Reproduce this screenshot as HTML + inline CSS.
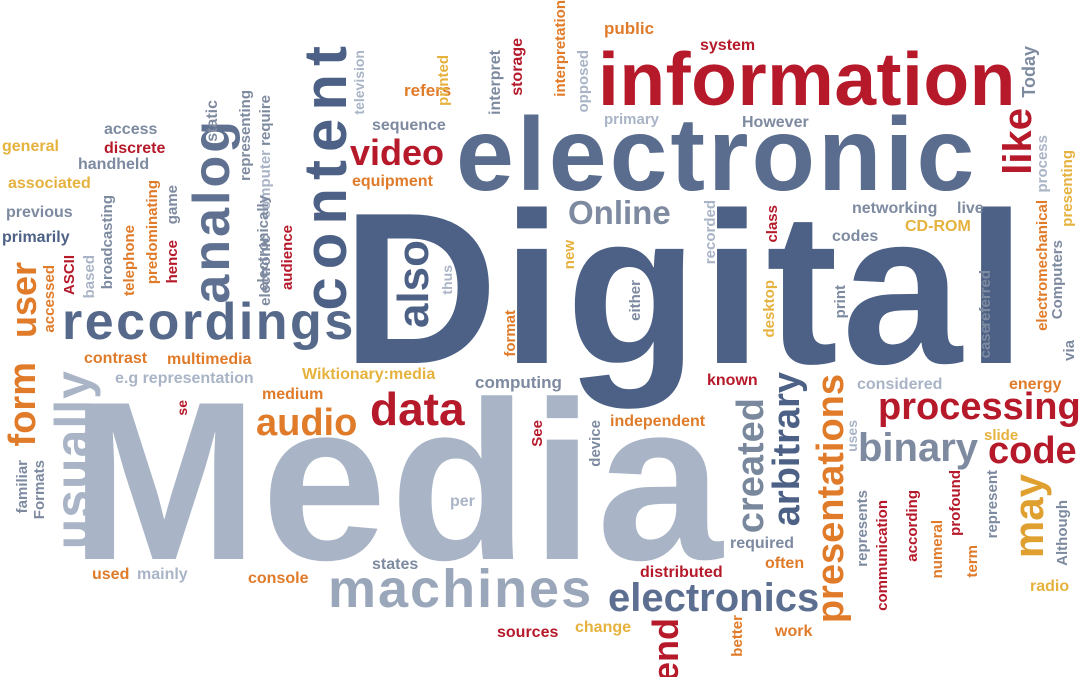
<!DOCTYPE html>
<html><head><meta charset="utf-8">
<style>
html,body{margin:0;padding:0;background:#fff}
#c{position:relative;width:1080px;height:677px;overflow:hidden;background:#fff;font-family:"Liberation Sans",sans-serif;font-weight:bold}
#c span{position:absolute;white-space:nowrap;line-height:1}
.v{writing-mode:vertical-rl;transform:rotate(180deg)}
.b{color:#4c6185}.r{color:#b5192a}.o{color:#e07b2a}.y{color:#e6b23e}.l{color:#a9b4c6}.g{color:#7d8aa0}
</style></head><body>
<div id="c">
<span class="b" style="left:342px;top:180px;font-size:216px;letter-spacing:4px">Digital</span>
<span class="l" style="left:70px;top:368px;font-size:226px;letter-spacing:3px">Media</span>
<span class="r" style="left:598px;top:42px;font-size:75px;letter-spacing:0.5px">information</span>
<span class="b" style="left:456px;top:103px;font-size:104px;color:#5a6d8e;letter-spacing:3px">electronic</span>
<span class="b v" style="left:296px;top:38px;font-size:60px;letter-spacing:8px">content</span>
<span class="b v" style="left:186px;top:118px;font-size:52px;color:#5f7090;letter-spacing:3px">analog</span>
<span class="b" style="left:62px;top:296px;font-size:52px;color:#56698b;letter-spacing:2.5px">recordings</span>
<span class="b v" style="left:392px;top:240px;font-size:44px">also</span>
<span class="r" style="left:350px;top:135px;font-size:36px">video</span>
<span class="g" style="left:568px;top:196px;font-size:33px">Online</span>
<span class="r" style="left:878px;top:388px;font-size:38px">processing</span>
<span class="g" style="left:858px;top:428px;font-size:40px">binary</span>
<span class="r" style="left:988px;top:432px;font-size:38px">code</span>
<span class="r" style="left:370px;top:386px;font-size:46px">data</span>
<span class="o" style="left:256px;top:404px;font-size:38px">audio</span>
<span class="l" style="left:328px;top:562px;font-size:54px;color:#9aa6ba;letter-spacing:2px">machines</span>
<span class="b" style="left:608px;top:578px;font-size:40px;color:#5d6f90">electronics</span>
<span class="l v" style="left:48px;top:370px;font-size:50px;letter-spacing:1px">usually</span>
<span class="o v" style="left:4px;top:362px;font-size:38px">form</span>
<span class="o v" style="left:6px;top:262px;font-size:36px">user</span>
<span class="b v" style="left:732px;top:398px;font-size:38px;color:#7a889e">created</span>
<span class="b v" style="left:768px;top:372px;font-size:38px">arbitrary</span>
<span class="o v" style="left:812px;top:374px;font-size:38px">presentations</span>
<span class="r v" style="left:998px;top:108px;font-size:40px">like</span>
<span class="y v" style="left:1008px;top:474px;font-size:42px;color:#e0a030">may</span>
<span class="r v" style="left:648px;top:618px;font-size:36px">end</span>
<span class="o" style="left:604px;top:20px;font-size:17px">public</span>
<span class="r" style="left:700px;top:38px;font-size:16px">system</span>
<span class="o" style="left:404px;top:82px;font-size:17px">refers</span>
<span class="g" style="left:372px;top:118px;font-size:16px">sequence</span>
<span class="l" style="left:604px;top:112px;font-size:15px">primary</span>
<span class="g" style="left:742px;top:115px;font-size:16px">However</span>
<span class="g" style="left:104px;top:122px;font-size:16px">access</span>
<span class="y" style="left:2px;top:139px;font-size:16px">general</span>
<span class="r" style="left:104px;top:141px;font-size:16px">discrete</span>
<span class="g" style="left:78px;top:157px;font-size:16px">handheld</span>
<span class="y" style="left:8px;top:176px;font-size:16px">associated</span>
<span class="o" style="left:352px;top:174px;font-size:16px">equipment</span>
<span class="g" style="left:6px;top:205px;font-size:16px">previous</span>
<span class="b" style="left:2px;top:230px;font-size:16px">primarily</span>
<span class="g" style="left:852px;top:201px;font-size:16px">networking</span>
<span class="g" style="left:957px;top:201px;font-size:16px">live</span>
<span class="y" style="left:905px;top:219px;font-size:16px">CD-ROM</span>
<span class="g" style="left:832px;top:229px;font-size:16px">codes</span>
<span class="o" style="left:84px;top:351px;font-size:16px">contrast</span>
<span class="o" style="left:167px;top:352px;font-size:16px">multimedia</span>
<span class="l" style="left:115px;top:371px;font-size:16px">e.g representation</span>
<span class="y" style="left:302px;top:367px;font-size:16px">Wiktionary:media</span>
<span class="g" style="left:475px;top:374px;font-size:17px">computing</span>
<span class="r" style="left:707px;top:373px;font-size:16px">known</span>
<span class="l" style="left:857px;top:377px;font-size:16px">considered</span>
<span class="o" style="left:1009px;top:377px;font-size:16px">energy</span>
<span class="o" style="left:262px;top:387px;font-size:16px">medium</span>
<span class="o" style="left:610px;top:414px;font-size:16px">independent</span>
<span class="y" style="left:984px;top:428px;font-size:15px">slide</span>
<span class="l" style="left:450px;top:494px;font-size:16px">per</span>
<span class="g" style="left:730px;top:536px;font-size:16px">required</span>
<span class="g" style="left:372px;top:557px;font-size:16px">states</span>
<span class="r" style="left:640px;top:565px;font-size:16px">distributed</span>
<span class="o" style="left:765px;top:556px;font-size:16px">often</span>
<span class="o" style="left:92px;top:567px;font-size:16px">used</span>
<span class="l" style="left:137px;top:567px;font-size:16px">mainly</span>
<span class="o" style="left:248px;top:571px;font-size:16px">console</span>
<span class="y" style="left:1030px;top:579px;font-size:16px">radio</span>
<span class="r" style="left:497px;top:625px;font-size:16px">sources</span>
<span class="y" style="left:575px;top:620px;font-size:16px">change</span>
<span class="o" style="left:775px;top:624px;font-size:16px">work</span>
<span class="g v" style="left:1020px;top:46px;font-size:18px">Today</span>
<span class="g v" style="left:205px;top:100px;font-size:16px">static</span>
<span class="l v" style="left:352px;top:50px;font-size:14px">television</span>
<span class="y v" style="left:436px;top:55px;font-size:15px">printed</span>
<span class="g v" style="left:488px;top:50px;font-size:16px">interpret</span>
<span class="r v" style="left:510px;top:38px;font-size:16px">storage</span>
<span class="o v" style="left:553px;top:0px;font-size:15px">interpretation</span>
<span class="l v" style="left:576px;top:50px;font-size:15px">opposed</span>
<span class="g v" style="left:238px;top:90px;font-size:15px">representing</span>
<span class="l v" style="left:258px;top:150px;font-size:15px">computer</span>
<span class="g v" style="left:258px;top:95px;font-size:15px">require</span>
<span class="g v" style="left:256px;top:195px;font-size:15px">electronically</span>
<span class="g v" style="left:258px;top:235px;font-size:15px">electronic</span>
<span class="r v" style="left:280px;top:225px;font-size:15px">audience</span>
<span class="g v" style="left:100px;top:195px;font-size:15px">broadcasting</span>
<span class="o v" style="left:145px;top:180px;font-size:15px">predominating</span>
<span class="g v" style="left:165px;top:185px;font-size:15px">game</span>
<span class="r v" style="left:165px;top:240px;font-size:15px">hence</span>
<span class="o v" style="left:122px;top:225px;font-size:15px">telephone</span>
<span class="l v" style="left:82px;top:255px;font-size:15px">based</span>
<span class="r v" style="left:62px;top:255px;font-size:15px">ASCII</span>
<span class="o v" style="left:42px;top:265px;font-size:15px">accessed</span>
<span class="y v" style="left:562px;top:240px;font-size:15px">new</span>
<span class="l v" style="left:440px;top:265px;font-size:14px">thus</span>
<span class="o v" style="left:503px;top:310px;font-size:15px">format</span>
<span class="g v" style="left:628px;top:280px;font-size:15px">either</span>
<span class="l v" style="left:703px;top:200px;font-size:15px">recorded</span>
<span class="y v" style="left:762px;top:280px;font-size:15px">desktop</span>
<span class="r v" style="left:765px;top:205px;font-size:15px">class</span>
<span class="g v" style="left:833px;top:285px;font-size:15px">print</span>
<span class="g v" style="left:978px;top:270px;font-size:15px">referred</span>
<span class="g v" style="left:978px;top:325px;font-size:15px">case</span>
<span class="o v" style="left:1035px;top:200px;font-size:15px">electromechanical</span>
<span class="l v" style="left:1035px;top:135px;font-size:15px">process</span>
<span class="g v" style="left:1050px;top:240px;font-size:15px">Computers</span>
<span class="y v" style="left:1060px;top:150px;font-size:15px">presenting</span>
<span class="g v" style="left:1062px;top:340px;font-size:15px">via</span>
<span class="r v" style="left:530px;top:420px;font-size:15px">See</span>
<span class="r v" style="left:175px;top:400px;font-size:14px">se</span>
<span class="g v" style="left:588px;top:420px;font-size:15px">device</span>
<span class="l v" style="left:845px;top:420px;font-size:14px">uses</span>
<span class="g v" style="left:855px;top:490px;font-size:15px">represents</span>
<span class="r v" style="left:875px;top:500px;font-size:15px">communication</span>
<span class="r v" style="left:905px;top:490px;font-size:15px">according</span>
<span class="o v" style="left:930px;top:520px;font-size:15px">numeral</span>
<span class="r v" style="left:948px;top:470px;font-size:15px">profound</span>
<span class="o v" style="left:965px;top:545px;font-size:15px">term</span>
<span class="g v" style="left:985px;top:470px;font-size:15px">represent</span>
<span class="g v" style="left:1055px;top:500px;font-size:15px">Although</span>
<span class="g v" style="left:15px;top:460px;font-size:15px">familiar</span>
<span class="g v" style="left:32px;top:460px;font-size:15px">Formats</span>
<span class="o v" style="left:730px;top:615px;font-size:15px">better</span>
</div>
</body></html>
